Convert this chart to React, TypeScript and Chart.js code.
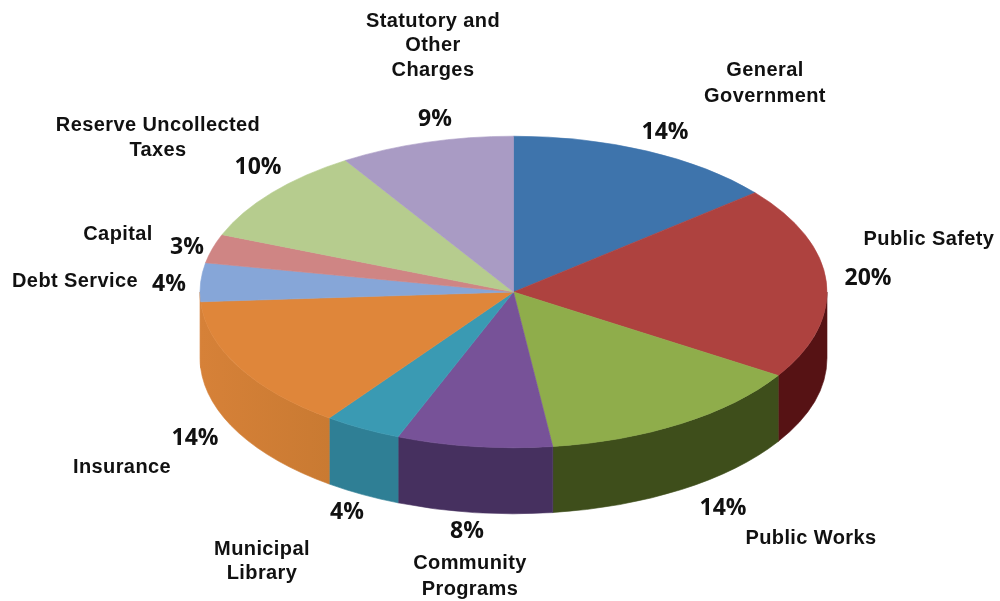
import React, { useEffect, useRef } from "react";
import { Chart, registerables } from "chart.js";

Chart.register(...registerables);

const categories = [
  "General\nGovernment",
  "Public Safety",
  "Public Works",
  "Community\nPrograms",
  "Municipal\nLibrary",
  "Insurance",
  "Debt Service",
  "Capital",
  "Reserve Uncollected\nTaxes",
  "Statutory and\nOther\nCharges",
];
const shares = [14, 20, 14, 8, 4, 14, 4, 3, 10, 9];
const topColors = [
  "#3E74AC", "#AE423F", "#8FAD4B", "#775298", "#3A9AB3",
  "#DF863A", "#86A6D8", "#CF8584", "#B6CC8E", "#A99BC4",
];
// Wall shades; the far-left wall edge catches more light than the front
const wallColors = [
  "#2A4F78", "#561214", "#3E4E1B", "#46305F", "#2F7F95",
  "#C97A32", "#D68138", "#96605F", "#83966A", "#786E90",
];
const wallEndColors = [
  "#2A4F78", "#561214", "#3E4E1B", "#46305F", "#2F7F95",
  "#D68138", "#D68138", "#96605F", "#83966A", "#786E90",
];

// Label anchors: [centre x, middle y of first line]
const nameAnchors: [number, number][] = [
  [765, 70], [929, 239], [811, 538], [470, 563], [262, 549],
  [122, 467], [75, 281], [118, 234], [158, 125], [433, 21],
];
const nameLineHeights = [26, 0, 0, 26, 24, 0, 0, 0, 25, 24.5];
const shareAnchors: [number, number][] = [
  [665, 132], [868, 278], [723, 508], [467, 531], [347, 512],
  [195, 438], [169, 284], [187, 247], [258, 167], [435, 119],
];

const TILT = 0.497;
const DEPTH = 66;
const RADIUS = 313.5;

const tiltedPie = {
  id: "tiltedPie",
  // Side walls of the disc, only the part facing the viewer
  beforeDatasetsDraw(chart: any) {
    const { ctx } = chart;
    chart.getDatasetMeta(0).data.forEach((arc: any, i: number) => {
      const { x, y, startAngle, endAngle, outerRadius } = arc.getProps(
        ["x", "y", "startAngle", "endAngle", "outerRadius"],
        true
      );
      const a0 = Math.max(startAngle, 0);
      const a1 = Math.min(endAngle, Math.PI);
      if (a1 <= a0) return;
      const xa = x + outerRadius * Math.cos(a0);
      const xb = x + outerRadius * Math.cos(a1);
      const paint = ctx.createLinearGradient(xa, 0, xb, 0);
      paint.addColorStop(0, wallColors[i]);
      paint.addColorStop(1, wallEndColors[i]);
      ctx.save();
      ctx.fillStyle = paint;
      ctx.strokeStyle = paint;
      ctx.lineWidth = 0.6;
      ctx.beginPath();
      ctx.ellipse(x, y, outerRadius, outerRadius * TILT, 0, a0, a1);
      ctx.ellipse(x, y + DEPTH, outerRadius, outerRadius * TILT, 0, a1, a0, true);
      ctx.closePath();
      ctx.fill();
      ctx.stroke();
      ctx.restore();
    });
  },
  // Squash the flat pie into the tilted disc's top face
  beforeDatasetDraw(chart: any) {
    const { ctx } = chart;
    const arc = chart.getDatasetMeta(0).data[0];
    ctx.save();
    ctx.translate(arc.x, arc.y);
    ctx.scale(1, TILT);
    ctx.translate(-arc.x, -arc.y);
  },
  afterDatasetDraw(chart: any) {
    chart.ctx.restore();
  },
  afterDraw(chart: any) {
    const { ctx } = chart;
    ctx.save();
    ctx.textAlign = "center";
    ctx.textBaseline = "middle";
    ctx.fillStyle = "#111111";
    ctx.font = 'bold 20px "Liberation Sans"';
    (ctx as any).letterSpacing = "0.4px";
    categories.forEach((name, i) => {
      const [ax, ay] = nameAnchors[i];
      name.split("\n").forEach((line, l) => {
        ctx.fillText(line, ax, ay + l * nameLineHeights[i]);
      });
    });
    (ctx as any).letterSpacing = "0px";
    ctx.font = 'bold 23px "Open Sans"';
    shares.forEach((v, i) => {
      const [ax, ay] = shareAnchors[i];
      ctx.fillText(`${v}%`, ax, ay);
    });
    ctx.restore();
  },
};

export default function App() {
  const ref = useRef<HTMLCanvasElement>(null);
  useEffect(() => {
    const chart = new Chart(ref.current!, {
      type: "pie",
      data: {
        labels: categories,
        datasets: [
          {
            data: shares,
            backgroundColor: topColors,
            borderColor: topColors,
            borderWidth: 0.8,
            radius: RADIUS,
            clip: false,
          } as any,
        ],
      },
      options: {
        responsive: false,
        animation: false,
        layout: { padding: { left: 27, bottom: 17 } },
        plugins: { legend: { display: false }, tooltip: { enabled: false } },
      },
      plugins: [tiltedPie],
    });
    return () => chart.destroy();
  }, []);
  return (
    <div style={{ position: "fixed", left: 0, top: 0, width: 1000, height: 601, background: "#fff" }}>
      <canvas ref={ref} width={1000} height={601} style={{ display: "block" }} />
    </div>
  );
}
